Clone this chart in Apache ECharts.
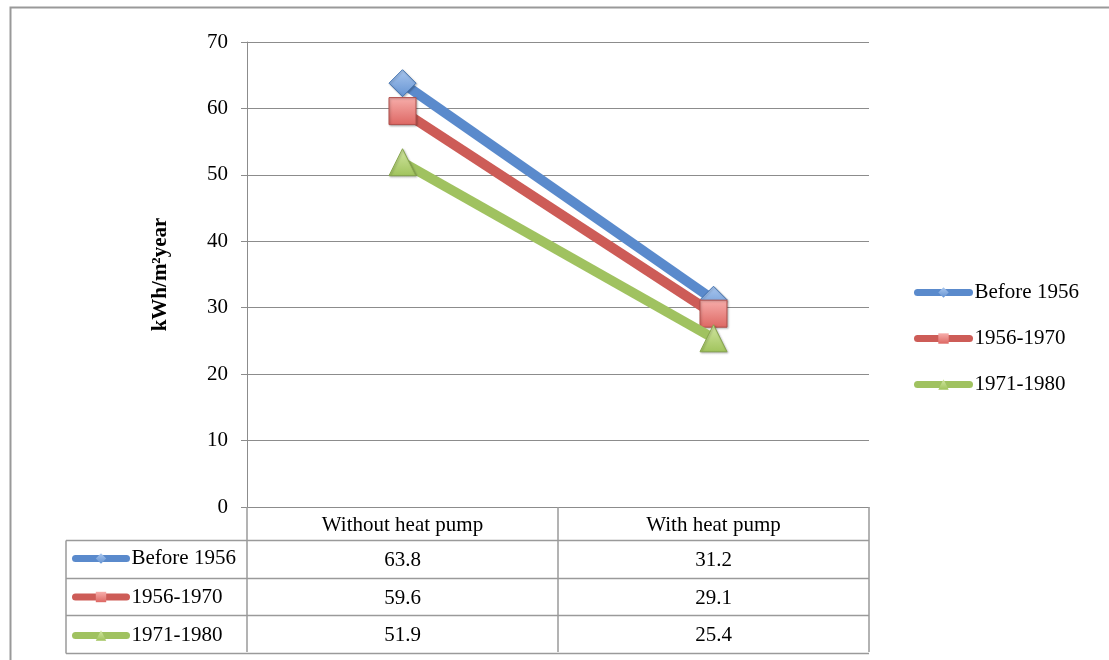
<!DOCTYPE html>
<html>
<head>
<meta charset="utf-8">
<script src="https://cdn.jsdelivr.net/npm/echarts@6/dist/echarts.min.js"></script>
<style>
  html, body { margin: 0; padding: 0; background: #ffffff; }
  #chart { width: 1109px; height: 660px; }
</style>
</head>
<body>
<div id="chart"></div>
<script>
// Heating energy demand per building age class, with and without a heat pump
const categories = ['Without heat pump', 'With heat pump'];
const seriesNames = ['Before 1956', '1956-1970', '1971-1980'];
const before1956 = [63.8, 31.2];
const from1956to1970 = [59.6, 29.1];
const from1971to1980 = [51.9, 25.4];
const yTicks = [0, 10, 20, 30, 40, 50, 60, 70];
const yAxisTitle = 'kWh/m²year';

const seriesValues = [before1956, from1956to1970, from1971to1980];

const FONT = '"Liberation Serif", "Times New Roman", serif';
const GRID_GRAY = '#8c8c8c';
const TABLE_GRAY = '#9a9a9a';

const lineColors = ['#5A8ACC', '#CD5C57', '#A0C260'];
const symbolTypes = ['diamond', 'rect', 'triangle'];
const symbolFills = [
  ['#a9c6ee', '#6493d2'],
  ['#f7aeab', '#dd6763'],
  ['#d3e7a3', '#a0c35c']
];
const symbolBorders = ['#4373b0', '#b0504c', '#86a54c'];

function vGrad(c) {
  return new echarts.graphic.LinearGradient(0, 0, 0, 1, [
    { offset: 0, color: c[0] },
    { offset: 1, color: c[1] }
  ]);
}

const chart = echarts.init(document.getElementById('chart'), null, { renderer: 'canvas' });

const series = seriesNames.map((name, i) => ({
  name: name,
  type: 'line',
  data: seriesValues[i],
  symbol: symbolTypes[i],
  symbolSize: [27, 27],
  showSymbol: true,
  lineStyle: { width: 10, color: lineColors[i], cap: 'butt' },
  itemStyle: {
    color: vGrad(symbolFills[i]),
    borderColor: symbolBorders[i],
    borderWidth: 1,
    shadowColor: 'rgba(0,0,0,0.25)',
    shadowBlur: 2,
    shadowOffsetX: 1,
    shadowOffsetY: 1
  },
  emphasis: { disabled: true },
  animation: false,
  z: 3 + i
}));

const legendText = { fontFamily: FONT, fontSize: 21, color: '#000', lineHeight: 20 };
const legendLine = { width: 7, cap: 'round' };
const legendSymbol = { borderWidth: 0, shadowBlur: 0 };

chart.setOption({
  backgroundColor: '#ffffff',
  animation: false,
  grid: { left: 247, right: 240, top: 42, bottom: 153, containLabel: false },
  legend: [
    {
      data: seriesNames,
      orient: 'vertical',
      left: 914,
      top: 282,
      padding: 0,
      itemWidth: 52,
      itemHeight: 13,
      itemGap: 25,
      selectedMode: false,
      lineStyle: legendLine,
      itemStyle: legendSymbol,
      textStyle: legendText
    },
    {
      data: seriesNames,
      orient: 'vertical',
      left: 72,
      top: 548,
      padding: 0,
      itemWidth: 51,
      itemHeight: 13,
      itemGap: 17.5,
      selectedMode: false,
      lineStyle: legendLine,
      itemStyle: legendSymbol,
      textStyle: legendText
    }
  ],
  xAxis: {
    type: 'category',
    data: categories,
    boundaryGap: true,
    axisLine: { show: true, lineStyle: { color: GRID_GRAY, width: 1 } },
    axisTick: { show: true, length: 145, alignWithLabel: false, lineStyle: { color: TABLE_GRAY, width: 1.5 } },
    axisLabel: { fontFamily: FONT, fontSize: 21, color: '#000', margin: 8 },
    splitLine: { show: false }
  },
  yAxis: {
    type: 'value',
    min: yTicks[0],
    max: yTicks[yTicks.length - 1],
    interval: yTicks[1] - yTicks[0],
    name: yAxisTitle,
    nameLocation: 'middle',
    nameGap: 76,
    nameRotate: 90,
    nameTextStyle: { fontFamily: FONT, fontSize: 21, fontWeight: 'bold', color: '#000' },
    axisLine: { show: true, lineStyle: { color: GRID_GRAY, width: 1 } },
    axisTick: { show: true, length: 6, lineStyle: { color: GRID_GRAY, width: 1 } },
    axisLabel: { fontFamily: FONT, fontSize: 21, color: '#000', margin: 19 },
    splitLine: { show: true, lineStyle: { color: GRID_GRAY, width: 1 } }
  },
  series: series
});

// Data table under the plot: borders and value cells placed from the axis scales
function buildTable() {
  const c0 = chart.convertToPixel({ xAxisIndex: 0 }, 0);
  const c1 = chart.convertToPixel({ xAxisIndex: 0 }, 1);
  const band = c1 - c0;
  const xEnd = c0 + band * (categories.length - 0.5);
  const yBase = chart.convertToPixel({ yAxisIndex: 0 }, 0);
  const headerH = 33;
  const rowH = 37.5;
  const tableLeft = 66;
  const elements = [];
  const stroke = { stroke: TABLE_GRAY, lineWidth: 1.5 };

  for (let r = 0; r <= seriesNames.length; r++) {
    const y = Math.round(yBase + headerH + r * rowH) + 0.5;
    elements.push({ type: 'line', shape: { x1: tableLeft, y1: y, x2: xEnd, y2: y }, style: stroke, silent: true });
  }
  const yTop = Math.round(yBase + headerH) + 0.5;
  const yBottom = Math.round(yBase + headerH + seriesNames.length * rowH) + 0.5;
  elements.push({ type: 'line', shape: { x1: tableLeft, y1: yTop, x2: tableLeft, y2: yBottom }, style: stroke, silent: true });

  seriesValues.forEach((vals, r) => {
    vals.forEach((v, k) => {
      elements.push({
        type: 'text',
        x: c0 + k * band,
        y: yBase + headerH + (r + 0.5) * rowH + 2,
        silent: true,
        style: {
          text: v.toFixed(1),
          fontFamily: FONT,
          fontSize: 21,
          fill: '#000',
          align: 'center',
          verticalAlign: 'middle'
        }
      });
    });
  });

  // Outer chart frame
  elements.push({
    type: 'rect',
    shape: { x: 10.5, y: 7.5, width: 1300, height: 800 },
    style: { fill: 'none', stroke: '#999999', lineWidth: 2 },
    silent: true,
    z: -1
  });

  chart.setOption({ graphic: elements });
}
buildTable();
</script>
</body>
</html>
